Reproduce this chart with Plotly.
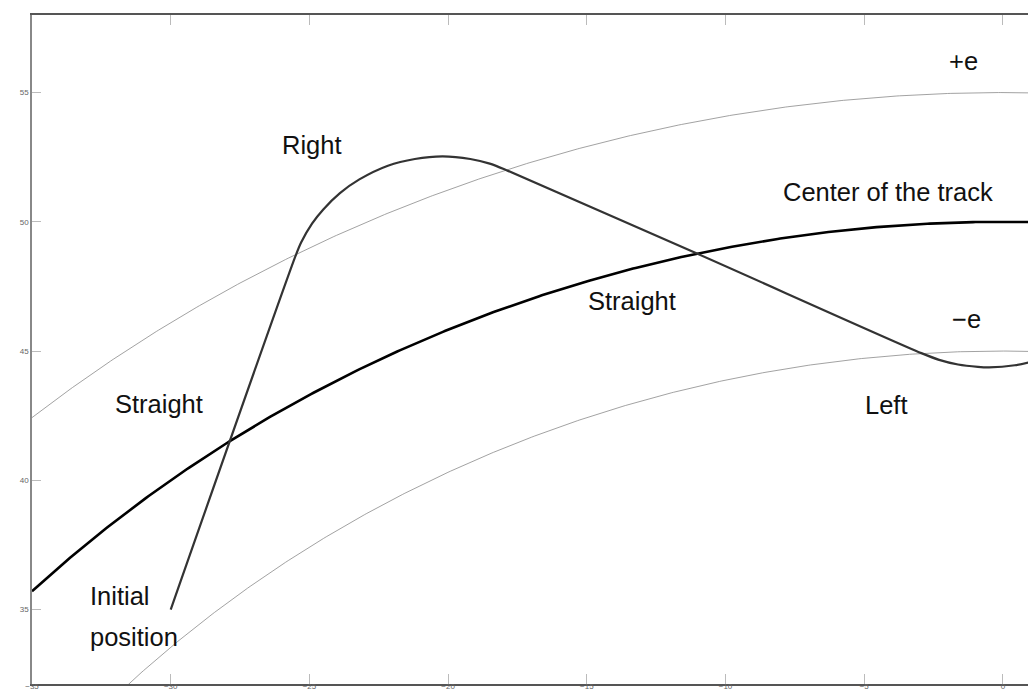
import numpy as np
import plotly.graph_objects as go

# Track geometry (circular track centred at the origin)
track_radius = 50.0
half_width_e = 5.0
x_range = [-35.0, 1.48]
y_range = [32.12, 58.0]

# Vehicle trajectory
traj_x = [-30.0, -25.5, -25.3, -24.9, -24.5, -23.9, -23.2, -22.17, -21.2, -20.2,
          -19.2, -18.5, -17.84, -11.05, -2.94, -2.3, -1.62, -0.9, -0.5, 0.43, 1.0, 1.48]
traj_y = [35.0, 48.68, 49.2, 49.94, 50.48, 51.11, 51.64, 52.17, 52.43, 52.53,
          52.43, 52.25, 51.97, 48.78, 44.92, 44.66, 44.48, 44.39, 44.37, 44.45, 44.58, 44.74]

# Text labels
label_text = ["+e", "Right", "Center of the track", "Straight", "\u2212e", "Left", "Straight"]
label_x = [-1.44, -24.91, -4.14, -13.37, -1.33, -4.18, -30.42]
label_y = [56.21, 52.98, 51.14, 46.92, 46.24, 42.91, 42.94]

init_text = ["Initial", "position"]
init_x = [-32.98, -32.98]
init_y = [35.53, 33.92]

x_ticks = [-35, -30, -25, -20, -15, -10, -5, 0]
y_ticks = [35, 40, 45, 50, 55]

xs = np.linspace(x_range[0], x_range[1], 400)

fig = go.Figure()
for r, col, w in [(track_radius + half_width_e, "#8a8a8a", 0.8),
                  (track_radius - half_width_e, "#8a8a8a", 0.8),
                  (track_radius, "#000000", 2.6)]:
    fig.add_trace(go.Scatter(x=xs, y=np.sqrt(r**2 - xs**2), mode="lines",
                             line=dict(color=col, width=w), hoverinfo="skip",
                             showlegend=False))

fig.add_trace(go.Scatter(x=traj_x, y=traj_y, mode="lines",
                         line=dict(color="#333333", width=2.2, shape="spline", smoothing=0.8),
                         showlegend=False))

font = dict(family="Liberation Sans, Arial, Helvetica, sans-serif", size=25.5, color="#111111")
for t, x, y in zip(label_text, label_x, label_y):
    fig.add_annotation(x=x, y=y, text=t, showarrow=False, font=font,
                       xanchor="center", yanchor="middle")
for t, x, y in zip(init_text, init_x, init_y):
    fig.add_annotation(x=x, y=y, text=t, showarrow=False, font=font,
                       xanchor="left", yanchor="middle")

tickfont = dict(family="Liberation Sans, Arial, sans-serif", size=8, color="#666666")
fig.update_layout(
    width=1036, height=691,
    margin=dict(l=24, r=0, t=7, b=15, autoexpand=False),
    paper_bgcolor="white", plot_bgcolor="white",
    xaxis=dict(range=x_range, tickvals=x_ticks, ticks="inside", ticklen=10,
               tickcolor="#bbbbbb", tickwidth=1, showline=True, linecolor="#555555",
               linewidth=1.5, mirror="ticks", showgrid=False, zeroline=False,
               automargin=False, tickfont=tickfont, ticklabelstandoff=-6),
    yaxis=dict(range=y_range, tickvals=y_ticks, ticks="inside", ticklen=9,
               tickcolor="#bbbbbb", tickwidth=1, showline=True, linecolor="#888888",
               linewidth=1.5, showgrid=False, zeroline=False,
               automargin=False, tickfont=tickfont),
)

fig.write_html("out.html")
